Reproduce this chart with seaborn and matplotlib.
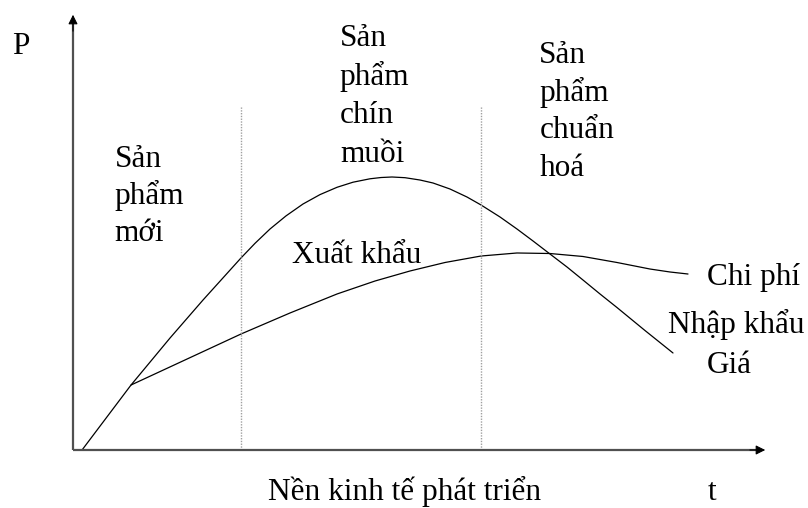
import numpy as np
import pandas as pd
import seaborn as sns
import matplotlib.pyplot as plt

# Giá (price) curve
gia_t = [1.3, 8.35, 13.96, 18.71, 24.17, 26.19, 28.35, 30.65, 33.09, 35.54, 37.99,
         40.29, 42.73, 44.32, 45.90, 47.77, 49.93, 51.80, 54.24, 56.69, 58.71,
         61.44, 63.88, 66.19, 68.63, 71.08, 73.38, 75.83, 78.27, 82.30, 86.33]
gia_p = [0.0, 14.84, 25.57, 34.25, 43.84, 47.19, 50.46, 53.45, 56.16, 58.31, 59.98,
         61.14, 61.92, 62.21, 62.33, 62.17, 61.64, 60.96, 59.59, 57.76, 55.94,
         53.20, 50.46, 47.72, 44.75, 41.78, 38.81, 35.62, 32.53, 27.28, 22.15]

# Chi phí (cost) curve, branches off the price curve
chiphi_t = [8.35, 16.26, 24.17, 31.22, 37.99, 43.45, 48.49, 53.53, 58.71, 63.88,
            68.63, 73.38, 78.27, 83.02, 85.90, 88.49]
chiphi_p = [14.84, 20.66, 26.48, 31.28, 35.62, 38.58, 40.87, 42.81, 44.29, 44.98,
            44.86, 44.18, 42.81, 41.32, 40.64, 40.18]

# ranh giới giai đoạn
giai_doan_t = [24.2, 58.7]
giai_doan_top = 78.5

df = pd.concat([
    pd.DataFrame({'t': gia_t, 'P': gia_p, 'duong': 'Giá'}),
    pd.DataFrame({'t': chiphi_t, 'P': chiphi_p, 'duong': 'Chi phí'}),
])

sns.set_style('white')
plt.rcParams['font.family'] = ['Liberation Serif', 'DejaVu Serif']

fig = plt.figure(figsize=(8.08, 5.08), dpi=100)
ax = fig.add_axes([0, 0, 1, 1])

sns.lineplot(data=df, x='t', y='P', units='duong', estimator=None, sort=False,
             color='black', linewidth=0.9, ax=ax, legend=False)
for line in ax.lines:
    line.set_solid_joinstyle('round')

ax.vlines(giai_doan_t, 0, giai_doan_top, colors='#a0a0a0', linewidth=1.0,
          linestyles=(0, (1, 1)))

# trục toạ độ
ax.plot([0, 98.5], [0, 0], color='#505050', linewidth=1.6, solid_capstyle='butt')
ax.plot([0, 0], [0, 98], color='#505050', linewidth=1.6, solid_capstyle='butt')
ax.annotate('', xy=(100, 0), xytext=(97, 0),
            arrowprops=dict(arrowstyle='-|>', color='black', lw=0.8, mutation_scale=14))
ax.annotate('', xy=(0, 100), xytext=(0, 95),
            arrowprops=dict(arrowstyle='-|>', color='black', lw=0.8, mutation_scale=14))

fs = 22.5
kw = dict(fontsize=fs, ha='left', va='baseline', color='black')

ax.text(-8.8, 90.4, 'P', **kw)
ax.text(28.1, -11.4, 'Nền kinh tế phát triển', **kw)
ax.text(91.4, -11.4, 't', **kw)
ax.text(31.5, 42.7, 'Xuất khẩu', **kw)
ax.text(91.2, 37.7, 'Chi phí', **kw)
ax.text(85.6, 26.7, 'Nhập khẩu', **kw)
ax.text(91.2, 17.6, 'Giá', **kw)

khoi = [
    (6.0, 167, ['Sản', 'phẩm', 'mới'], 37),
    (38.4, 46, ['Sản', 'phẩm', 'chín', 'muồi'], 38.5),
    (67.1, 63, ['Sản', 'phẩm', 'chuẩn', 'hoá'], 37.5),
]
for x0, y0_px, dong, buoc in khoi:
    for i, s in enumerate(dong):
        ax.text(x0, (450 - (y0_px + i * buoc)) / 4.38, s, **kw)

ax.set_xlim(-73 / 6.95, 735 / 6.95)
ax.set_ylim(-58 / 4.38, 450 / 4.38)
ax.axis('off')

fig.savefig('out.png', dpi=100)
